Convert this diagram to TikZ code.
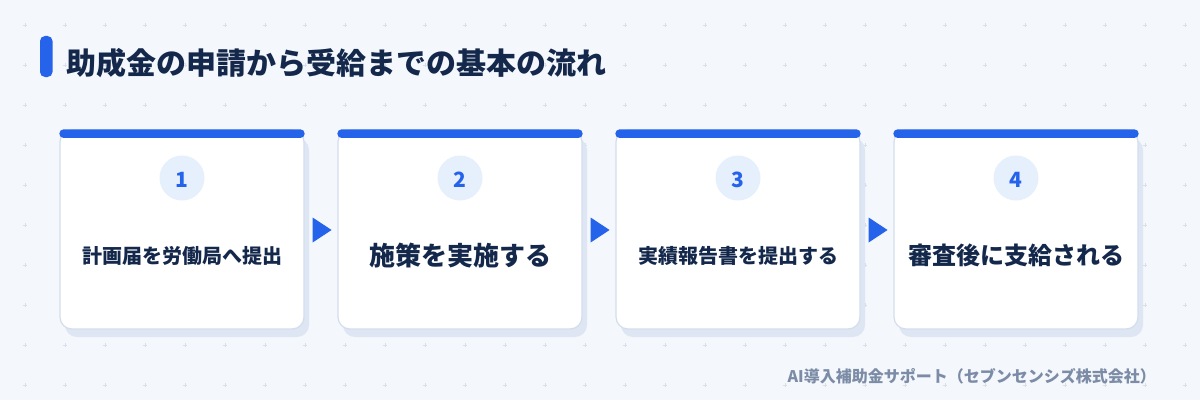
\documentclass[tikz,border=0pt]{standalone}
\usepackage{fontspec}
\setmainfont{Noto Sans CJK JP}
\usetikzlibrary{calc}
\definecolor{bgc}{HTML}{F4F7FC}
\definecolor{gridc}{HTML}{D7DFEA}
\definecolor{bluec}{HTML}{2563EB}
\definecolor{navyc}{HTML}{14284B}
\definecolor{borderc}{HTML}{D3DEED}
\definecolor{shadowc}{HTML}{DDE6F2}
\definecolor{circc}{HTML}{E6EFFC}
\definecolor{footc}{HTML}{7C8CA6}
\tikzset{
  card/.style={draw=borderc, line width=1.2pt, fill=white, rounded corners=12pt,
    minimum width=244pt, minimum height=199pt, inner sep=0pt},
  numcirc/.style={circle, fill=circc, minimum size=45pt, inner sep=0pt},
  numtxt/.style={text=bluec, font=\bfseries\fontsize{21pt}{21pt}\selectfont,
    inner sep=0pt},
  smalltxt/.style={text=navyc, font=\bfseries\fontsize{20pt}{20pt}\selectfont,
    inner sep=0pt},
  bigtxt/.style={text=navyc, font=\bfseries\fontsize{26pt}{26pt}\selectfont,
    inner sep=0pt},
  bigtxtb/.style={text=navyc, font=\bfseries\fontsize{24pt}{24pt}\selectfont,
    inner sep=0pt},
  plusmark/.style={draw=gridc, line width=0.8pt},
  stepbar/.style={fill=bluec, rounded corners=4pt},
  arrowtri/.style={fill=bluec}
}
\begin{document}
\begin{tikzpicture}[x=1pt,y=1pt]
\useasboundingbox (0,0) rectangle (1200,400);
\fill[bgc] (0,0) rectangle (1200,400);
% dot grid
\foreach \i in {0,...,29} {
  \foreach \j in {0,...,9} {
    \draw[plusmark] ({25+40*\i-1.6},{375-40*\j}) -- ++(3.2,0);
    \draw[plusmark] ({25+40*\i},{375-40*\j-1.6}) -- ++(0,3.2);
  }
}
% title
\fill[bluec, rounded corners=5pt] (40,323) rectangle (52.5,364);
\node[anchor=west, inner sep=0pt, text=navyc,
  font=\bfseries\fontsize{30pt}{30pt}\selectfont] (title) at (66.5,337)
  {助成金の申請から受給までの基本の流れ};
% cards
\foreach \k/\num/\txt/\sty in {1/1/計画届を労働局へ提出/smalltxt,
                               2/2/施策を実施する/bigtxt,
                               3/3/実績報告書を提出する/smalltxt,
                               4/4/審査後に支給される/bigtxtb} {
  \pgfmathsetmacro{\cx}{182+278*(\k-1)}
  \fill[shadowc, rounded corners=12pt] ({\cx-122+5},63) rectangle ({\cx+122+5},262);
  \node[card] (c\k) at (\cx,170.5) {};
  \fill[stepbar] (c\k.north west) rectangle ($(c\k.north east)+(0,-8.5)$);
  \node[numcirc] (n\k) at (\cx,222) {};
  \node[numtxt] (d\k) at ($(n\k.center)+(0,-1.5)$) {\num};
  \node[\sty] (t\k) at (\cx,144.5) {\txt};
}
% arrows
\foreach \k in {1,2,3} {
  \fill[arrowtri] ($(c\k.east)+(8,12)$) -- ($(c\k.east)+(27,-0.5)$) -- ($(c\k.east)+(8,-13)$) -- cycle;
}
% footer
\node[anchor=east, inner sep=0pt, text=footc,
  font=\bfseries\fontsize{16pt}{16pt}\selectfont] (foot) at (1156,24)
  {AI導入補助金サポート（セブンセンシズ株式会社）};
\end{tikzpicture}
\end{document}
